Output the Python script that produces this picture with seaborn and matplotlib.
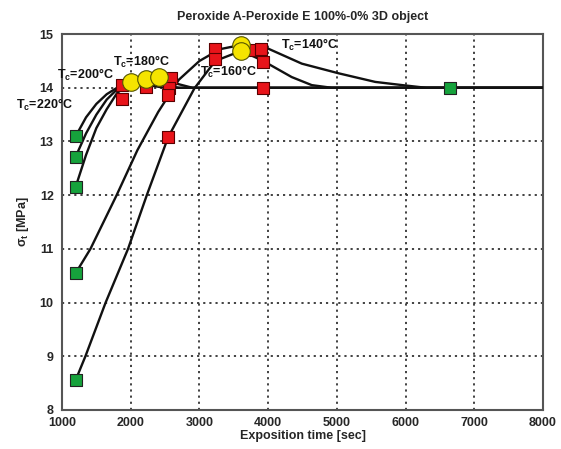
import matplotlib
matplotlib.use("Agg")
import matplotlib.pyplot as plt
import seaborn as sns
import pandas as pd

# ---- data ----
c220_x = [1200, 1350, 1500, 1650, 1800, 2000, 2200, 2500, 8000]
c220_y = [13.10, 13.45, 13.70, 13.88, 14.00, 14.11, 14.06, 14.00, 14.00]
c200_x = [1200, 1350, 1500, 1650, 1800, 1950, 2219, 2400, 2700, 8000]
c200_y = [12.72, 13.15, 13.50, 13.78, 13.97, 14.10, 14.16, 14.08, 14.00, 14.00]
c180_x = [1200, 1350, 1500, 1650, 1800, 2000, 2200, 2415, 2600, 2900, 8000]
c180_y = [12.16, 12.75, 13.25, 13.60, 13.90, 14.10, 14.17, 14.20, 14.10, 14.00, 14.00]
c140_x = [1200, 1414, 1795, 2098, 2400, 2700, 3000, 3300, 3610, 4000, 4490, 5026, 5558, 5953, 6300, 8000]
c140_y = [10.55, 11.00, 12.00, 12.84, 13.55, 14.15, 14.50, 14.72, 14.80, 14.73, 14.45, 14.27, 14.11, 14.05, 14.00, 14.00]
c160_x = [1200, 1341, 1635, 1961, 2234, 2545, 2927, 3230, 3610, 3928, 4343, 4635, 4928, 8000]
c160_y = [8.56, 9.00, 10.00, 11.00, 12.00, 13.08, 13.99, 14.50, 14.69, 14.50, 14.20, 14.05, 14.00, 14.00]

green_x = [1200, 1200, 1200, 1200, 1200, 6640]
green_y = [13.10, 12.72, 12.16, 10.55, 8.56, 14.00]
red_x = [1874, 1874, 2219, 2585, 2560, 2545, 2545, 3230, 3230, 3750, 3903, 3928, 3928]
red_y = [14.05, 13.80, 14.02, 14.18, 13.99, 13.86, 13.08, 14.72, 14.53, 14.70, 14.73, 14.48, 13.99]
yellow_x = [2000, 2219, 2415, 3610, 3610]
yellow_y = [14.11, 14.16, 14.20, 14.80, 14.69]

labels = ["220", "200", "180", "160", "140"]
label_x = [330, 930, 1740, 3010, 4190]
label_y = [13.68, 14.24, 14.48, 14.29, 14.80]

xticks = [1000, 2000, 3000, 4000, 5000, 6000, 7000, 8000]
yticks = [8, 9, 10, 11, 12, 13, 14, 15]

# ---- plotting ----
sns.set_theme(style="white")
plt.rcParams["font.family"] = ["Liberation Sans", "DejaVu Sans"]
plt.rcParams["mathtext.fontset"] = "custom"
plt.rcParams["mathtext.rm"] = "Liberation Sans:bold"
plt.rcParams["mathtext.it"] = "Liberation Sans:bold"
plt.rcParams["mathtext.bf"] = "Liberation Sans:bold"

fig = plt.figure(figsize=(5.61, 4.49), dpi=100)
ax = fig.add_axes([0.1105, 0.087, 0.968 - 0.1105, 0.924 - 0.087])

curves = [(c220_x, c220_y), (c200_x, c200_y), (c180_x, c180_y),
          (c140_x, c140_y), (c160_x, c160_y)]
for cx, cy in curves:
    df = pd.DataFrame({"t": cx, "s": cy})
    sns.lineplot(data=df, x="t", y="s", sort=False, estimator=None,
                 color="#111111", linewidth=1.7, ax=ax, zorder=3)

sns.scatterplot(x=green_x, y=green_y, marker="s", s=75, color="#16a23c",
                edgecolor="#222222", linewidth=0.8, ax=ax, zorder=4)
sns.scatterplot(x=red_x, y=red_y, marker="s", s=75, color="#e8141a",
                edgecolor="#5a0000", linewidth=0.8, ax=ax, zorder=4)
sns.scatterplot(x=yellow_x, y=yellow_y, marker="o", s=160, color="#f5e400",
                edgecolor="#555500", linewidth=0.8, ax=ax, zorder=5)

for lab, lx, ly in zip(labels, label_x, label_y):
    ax.text(lx, ly, r"T$_{c}$=" + lab + "°C", fontsize=9, fontweight="bold",
            va="center", ha="left", clip_on=False, zorder=6, color="#111111")

ax.set_xlim(1000, 8000)
ax.set_ylim(8, 15)
ax.set_xticks(xticks)
ax.set_yticks(yticks)
ax.set_xticklabels([str(v) for v in xticks], fontsize=9, fontweight="bold")
ax.set_yticklabels([str(v) for v in yticks], fontsize=9, fontweight="bold")
ax.tick_params(direction="in", length=4, width=1, color="#222222")
ax.tick_params(axis="x", pad=5)
ax.tick_params(axis="y", pad=6)
ax.grid(True, linestyle=(0, (1.2, 2.2)), color="#333333", linewidth=1.3)
for sp in ax.spines.values():
    sp.set_visible(True)
    sp.set_color("#555555")
    sp.set_linewidth(1.5)

ax.set_xlabel("Exposition time [sec]", fontsize=9, fontweight="bold", labelpad=1)
ax.set_ylabel(r"$\sigma_t$ [MPa]", fontsize=9, fontweight="bold", labelpad=6)
ax.set_title("Peroxide A-Peroxide E 100%-0% 3D object", fontsize=9,
             fontweight="bold", pad=10)

fig.savefig("out.png", dpi=100)
